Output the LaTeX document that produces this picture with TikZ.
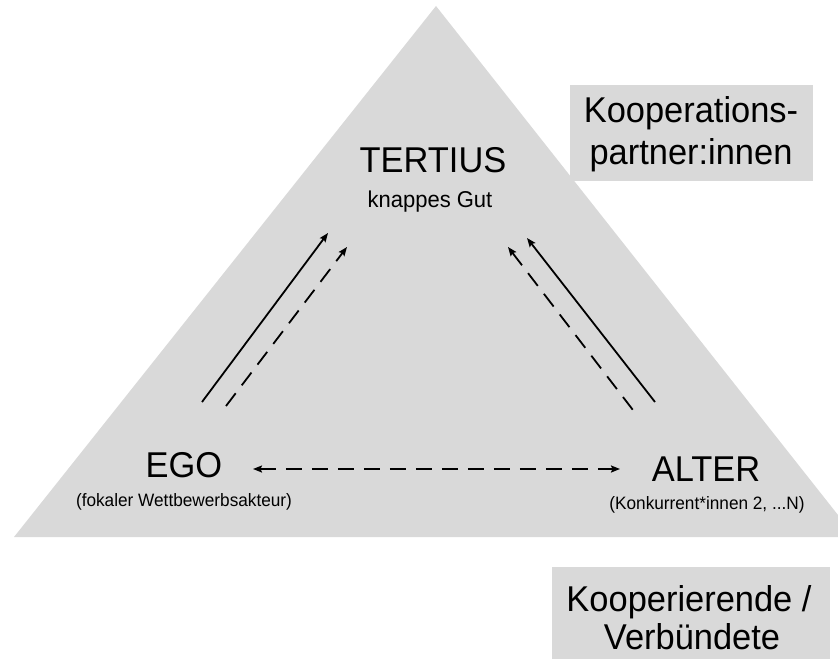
\documentclass[tikz,border=0pt]{standalone}
\usepackage{fontspec}
\setmainfont{Liberation Sans}[FakeStretch=0.96]
\usetikzlibrary{arrows.meta}
\definecolor{tri}{HTML}{D9D9D9}
\tikzset{
  lbl/.style={inner sep=0pt, anchor=base, text=black},
  big/.style={lbl, font=\fontsize{36}{42}\selectfont},
  mid/.style={lbl, font=\fontsize{23}{27}\selectfont},
  small/.style={lbl, font=\fontsize{18}{21}\selectfont},
  conn/.style={line width=1.8bp, -{Stealth[length=9bp,width=7bp,inset=1.5bp]}},
  dconn/.style={conn, dash pattern=on 16bp off 10bp},
}
\begin{document}
\begin{tikzpicture}[x=1bp,y=-1bp]
\useasboundingbox (0,0) rectangle (838,659);
% triangle
\fill[tri] (436,6) -- (14,537) -- (838,537) -- (838,515) -- cycle;
% boxes
\fill[tri] (570,85) rectangle (813,181);
\fill[tri] (552,567) rectangle (830,659);
% labels
\node[big] (tertius) at (433,172) {TERTIUS};
\node[mid] (gut) at (430,207) {knappes Gut};
\node[big] (ego) at (184,477) {EGO};
\node[small] (egosub) at (184,506) {(fokaler Wettbewerbsakteur)};
\node[big] (alter) at (706,481) {ALTER};
\node[small] (altersub) at (707,509) {(Konkurrent*innen 2, ...N)};
\node[big] (koop1) at (691,123) {Kooperations-};
\node[big] (koop2) at (691,165) {partner:innen};
\node[big] (verb1) at (689,611) {Kooperierende /};
\node[big] (verb2) at (692,649) {Verbündete};
% arrow end points
\coordinate (ls0) at (202,402);
\coordinate (ls1) at (328,233);
\coordinate (ld0) at (226,406);
\coordinate (ld1) at (347,247);
\coordinate (rs0) at (655,402);
\coordinate (rs1) at (527,238);
\coordinate (rd0) at (636,414);
\coordinate (rd1) at (508,247);
\coordinate (h0) at (253,469);
\coordinate (h1) at (620,469);
% connectors
\draw[conn] (ls0) -- (ls1);
\draw[dconn] (ld0) -- (ld1);
\draw[conn] (rs0) -- (rs1);
\draw[dconn, {Stealth[length=9bp,width=7bp,inset=1.5bp]}-] (rd1) -- (rd0);
\draw[dconn, {Stealth[length=9bp,width=7bp,inset=1.5bp]}-{Stealth[length=9bp,width=7bp,inset=1.5bp]}] (h0) -- (h1);
\end{tikzpicture}
\end{document}
